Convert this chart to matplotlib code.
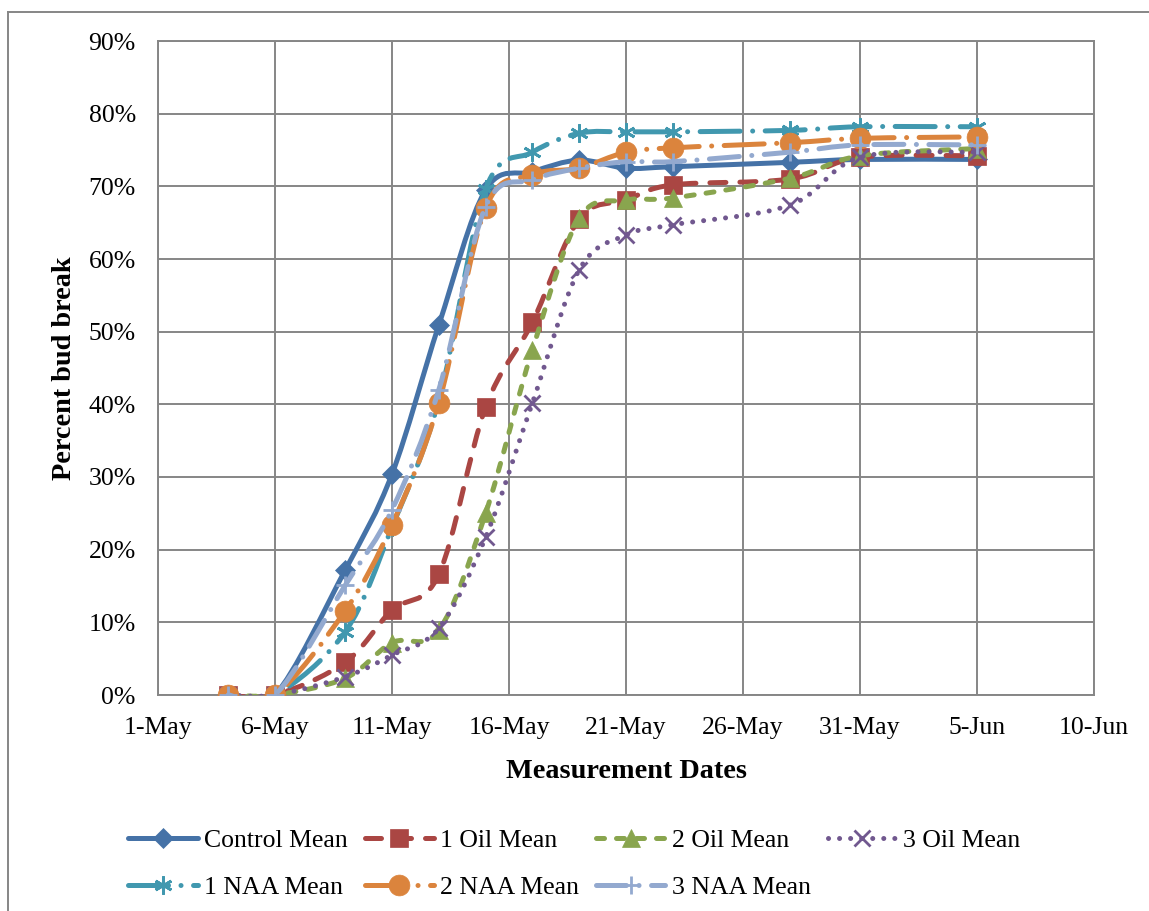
import matplotlib
matplotlib.use("Agg")
import matplotlib.pyplot as plt
import matplotlib.dates as mdates
from matplotlib.path import Path
from matplotlib.patches import PathPatch
from matplotlib.lines import Line2D
import numpy as np

plt.rcParams['font.family'] = ['Liberation Serif', 'DejaVu Serif']

# measurement dates and mean bud break (%) per treatment
dates = ["2012-05-04", "2012-05-06", "2012-05-09", "2012-05-11", "2012-05-13",
         "2012-05-15", "2012-05-17", "2012-05-19", "2012-05-21", "2012-05-23",
         "2012-05-28", "2012-05-31", "2012-06-05"]

control = [0, 0, 17.2, 30.4, 50.9, 69.5, 72.0, 73.6, 72.5, 72.7, 73.3, 73.7, 73.7]
oil1 = [0, 0, 4.5, 11.7, 16.6, 39.6, 51.3, 65.5, 68.1, 70.2, 71.0, 74.0, 74.2]
oil2 = [0, 0, 2.3, 7.2, 8.9, 25.0, 47.5, 65.6, 68.1, 68.4, 71.1, 74.2, 75.2]
oil3 = [0, 0, 2.5, 5.5, 9.2, 21.7, 40.2, 58.5, 63.3, 64.7, 67.4, 74.0, 74.7]
naa1 = [0, 0, 8.7, 23.1, 40.5, 69.6, 74.7, 77.3, 77.5, 77.5, 77.7, 78.2, 78.2]
naa2 = [0, 0, 11.6, 23.4, 40.2, 67.0, 71.6, 72.5, 74.7, 75.3, 76.0, 76.6, 76.8]
naa3 = [0, 0, 15.1, 25.5, 42.0, 67.2, 70.9, 72.5, 73.4, 73.4, 74.7, 75.7, 75.7]

labels = ["Control Mean", "1 Oil Mean", "2 Oil Mean", "3 Oil Mean",
          "1 NAA Mean", "2 NAA Mean", "3 NAA Mean"]
series = [control, oil1, oil2, oil3, naa1, naa2, naa3]

colors = ["#4572A7", "#AA4643", "#89A54E", "#71588F", "#4198AF", "#DB843D", "#93A9CF"]
markers = ["D", "s", "^", "x", (6, 2, 0), "o", "+"]
msizes = [10, 12.5, 12.5, 11, 13, 15, 13]
dashes = [None, (0, (3.2, 2.8)), (0, (1.6, 2.4)), (0, (0.01, 2.2)),
          (0, (8, 2.5, 0.01, 2.5)), (0, (8, 2.5, 0.01, 2.5)), (0, (6, 2.5, 0.01, 2.5))]
LW = 3.6


def smooth_path(xs, ys):
    # excel-style smoothed line: catmull-rom segments as cubic beziers
    pts = np.column_stack([xs, ys]).astype(float)
    n = len(pts)
    verts = [pts[0]]
    codes = [Path.MOVETO]
    for i in range(n - 1):
        p0 = pts[i - 1] if i > 0 else pts[i]
        p1 = pts[i]
        p2 = pts[i + 1]
        p3 = pts[i + 2] if i + 2 < n else pts[i + 1]
        verts += [p1 + (p2 - p0) / 6, p2 - (p3 - p1) / 6, p2]
        codes += [Path.CURVE4] * 3
    return Path(verts, codes)


fig = plt.figure(figsize=(11.49, 9.11), dpi=100)
ax = fig.add_axes([158 / 1149, 1 - 695 / 911, (1094 - 158) / 1149, (695 - 41) / 911])

x = mdates.date2num(np.array(dates, dtype="datetime64[D]"))

handles = []
for k, (ys, lab) in enumerate(zip(series, labels)):
    ls = '-' if dashes[k] is None else dashes[k]
    patch = PathPatch(smooth_path(x, ys), fill=False, edgecolor=colors[k],
                      linewidth=LW, linestyle=ls, capstyle='round', joinstyle='round',
                      zorder=3 + k)
    ax.add_patch(patch)
    mew = 2.0 if markers[k] in ("x", "+") or isinstance(markers[k], tuple) else 0.5
    ax.plot(x, ys, linestyle='none', marker=markers[k], markersize=msizes[k],
            color=colors[k], markeredgewidth=mew, zorder=3.5 + k)
    h = Line2D([], [], color=colors[k], linewidth=LW, linestyle=ls,
               dash_capstyle='round', solid_capstyle='round',
               marker=markers[k], markersize=msizes[k], markeredgewidth=mew)
    handles.append(h)

start = mdates.date2num(np.datetime64("2012-05-01"))
end = mdates.date2num(np.datetime64("2012-06-10"))
ax.set_xlim(start, end)
ax.set_ylim(0, 90)
ax.set_xticks(np.arange(start, end + 1, 5))
ax.xaxis.set_major_formatter(mdates.DateFormatter('%-d-%b'))
ax.set_yticks(np.arange(0, 91, 10))
ax.yaxis.set_major_formatter(lambda v, pos: f"{v:.0f}%")

gcol = "#868686"
ax.grid(True, color=gcol, linewidth=1.4)
ax.set_axisbelow(True)
for s in ax.spines.values():
    s.set_color(gcol)
    s.set_linewidth(1.4)
ax.tick_params(axis='both', length=0, labelsize=18.5)
ax.tick_params(axis='y', pad=16)
ax.tick_params(axis='x', pad=16)

ax.set_xlabel("Measurement Dates", fontsize=20.3, fontweight='bold')
ax.xaxis.set_label_coords(0.5, -0.098)
ax.set_ylabel("Percent bud break", fontsize=20.3, fontweight='bold')
ax.yaxis.set_label_coords(-0.087, 0.5)

# legend rows: Control, 1 Oil, 2 Oil, 3 Oil / 1 NAA, 2 NAA, 3 NAA (column-major fill)
order = [0, 4, 1, 5, 2, 6, 3]
fig.legend([handles[i] for i in order], [labels[i] for i in order], ncol=4,
           loc='center', bbox_to_anchor=(0.5, 1 - 864 / 911), frameon=False,
           fontsize=18.5, handlelength=2.7, handletextpad=0.25, columnspacing=0.65,
           labelspacing=0.9)

# outer chart border
fig.add_artist(Line2D([8 / 1149, 8 / 1149], [-0.01, 1 - 12 / 911], color=gcol,
                      linewidth=1.4, transform=fig.transFigure))
fig.add_artist(Line2D([8 / 1149, 1.01], [1 - 12 / 911, 1 - 12 / 911], color=gcol,
                      linewidth=1.4, transform=fig.transFigure))

fig.savefig("out.png", dpi=100)
